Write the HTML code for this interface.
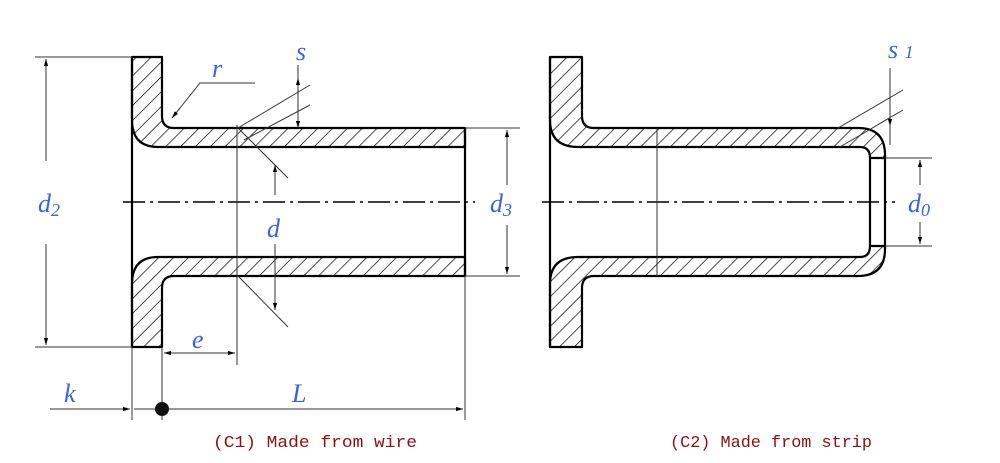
<!DOCTYPE html>
<html><head><meta charset="utf-8"><style>
html,body{margin:0;padding:0;background:#fff;}
svg{display:block;}
.it{font-family:"Liberation Serif",serif;font-style:italic;fill:#3a63d8;}
</style></head><body>
<svg width="1000" height="463" viewBox="0 0 1000 463" xmlns="http://www.w3.org/2000/svg">
<defs>
<pattern id="h" width="10.5" height="10.5" patternUnits="userSpaceOnUse" patternTransform="rotate(45)">
<line x1="0" y1="0" x2="0" y2="10.5" stroke="#000" stroke-width="1.4"/>
</pattern>
<marker id="a" viewBox="0 0 10 10" refX="10" refY="5" markerWidth="7" markerHeight="7" orient="auto-start-reverse">
<path d="M0,2 L10,5 L0,8 Z" fill="#000"/>
</marker>
</defs>
<g fill="url(#h)" stroke="#000" stroke-width="2.2" stroke-linejoin="round">
<path d="M132,57 H162 V116 Q162,128 174,128 H465 V147 H158 Q132,147 132,120 Z"/>
<path d="M132,347 H162 V288 Q162,276 174,276 H465 V257 H158 Q132,257 132,284 Z"/>
<path d="M550,57 H582 V116 Q582,128 594,128 H858 Q885,128 885,155 V158 H870 Q870,147 860,147 H578 Q550,147 550,120 Z"/>
<path d="M550,347 H582 V288 Q582,276 594,276 H858 Q885,276 885,249 V246 H870 Q870,257 860,257 H578 Q550,257 550,284 Z"/>
</g>
<g stroke="#000" stroke-width="2.2">
<line x1="132" y1="57" x2="132" y2="347"/>
<line x1="465" y1="128" x2="465" y2="276"/>
<line x1="550" y1="57" x2="550" y2="347"/>
<line x1="870" y1="158" x2="870" y2="246"/>
<line x1="885" y1="155" x2="885" y2="249"/>
</g>
<g stroke="#000" stroke-width="1.5" stroke-dasharray="22,5,3,5">
<line x1="123" y1="202" x2="475" y2="202"/>
<line x1="542" y1="202" x2="895" y2="202"/>
</g>
<g stroke="#333" stroke-width="1" fill="none">
<line x1="35" y1="57" x2="132" y2="57"/>
<line x1="35" y1="347" x2="132" y2="347"/>
<line x1="46" y1="161" x2="46" y2="59" marker-end="url(#a)"/>
<line x1="46" y1="244" x2="46" y2="345" marker-end="url(#a)"/>
<line x1="465" y1="128" x2="520" y2="128"/>
<line x1="465" y1="276" x2="520" y2="276"/>
<line x1="507" y1="185" x2="507" y2="130" marker-end="url(#a)"/>
<line x1="507" y1="225" x2="507" y2="274" marker-end="url(#a)"/>
<polyline points="255,83 200,83 172,118"/>
<line x1="180" y1="108" x2="172" y2="118" marker-end="url(#a)"/>
<line x1="298" y1="65" x2="298" y2="126" />
<line x1="298" y1="110" x2="298" y2="128" marker-end="url(#a)"/>
<line x1="298" y1="95" x2="298" y2="78" marker-end="url(#a)"/>
<line x1="238" y1="128" x2="310" y2="85"/>
<line x1="244" y1="140" x2="310" y2="105"/>
<line x1="238" y1="128" x2="288" y2="178"/>
<line x1="238" y1="276" x2="288" y2="327"/>
<line x1="275" y1="195" x2="275" y2="165" marker-end="url(#a)"/>
<line x1="275" y1="244" x2="275" y2="310" marker-end="url(#a)"/>
<line x1="237" y1="125" x2="237" y2="365"/>
<line x1="162" y1="347" x2="162" y2="420"/>
<line x1="132" y1="347" x2="132" y2="420"/>
<line x1="465" y1="276" x2="465" y2="420"/>
<line x1="200" y1="353" x2="164" y2="353" marker-end="url(#a)"/>
<line x1="200" y1="353" x2="235" y2="353" marker-end="url(#a)"/>
<line x1="50" y1="409" x2="130" y2="409" marker-end="url(#a)"/>
<line x1="162" y1="409" x2="463" y2="409" marker-end="url(#a)"/>
<line x1="134" y1="409" x2="162" y2="409"/>
<line x1="657" y1="128" x2="657" y2="276"/>
<line x1="885" y1="158" x2="932" y2="158"/>
<line x1="885" y1="246" x2="932" y2="246"/>
<line x1="920" y1="185" x2="920" y2="160" marker-end="url(#a)"/>
<line x1="920" y1="222" x2="920" y2="244" marker-end="url(#a)"/>
<line x1="890" y1="68" x2="890" y2="145"/>
<line x1="890" y1="90" x2="890" y2="126" marker-end="url(#a)"/>
<line x1="838" y1="128" x2="903" y2="90"/>
<line x1="840" y1="147" x2="903" y2="110"/>
</g>
<circle cx="162" cy="409" r="7" fill="#111"/>
<g class="it" font-size="26">
<text x="38" y="212">d<tspan font-size="18" dy="4">2</tspan></text>
<text x="490" y="212">d<tspan font-size="18" dy="4">3</tspan></text>
<text x="267" y="237">d</text>
<text x="212" y="77">r</text>
<text x="296" y="60">s</text>
<text x="192" y="348">e</text>
<text x="64" y="402">k</text>
<text x="292" y="402">L</text>
<text x="888" y="58">s <tspan font-size="18">1</tspan></text>
<text x="908" y="212">d<tspan font-size="18" dy="4">0</tspan></text>
</g>
<g font-family="'Liberation Mono',monospace" font-size="17" fill="#8b1010">
<text x="213" y="447" textLength="204" lengthAdjust="spacingAndGlyphs">(C1) Made from wire</text>
<text x="670" y="447" textLength="202" lengthAdjust="spacingAndGlyphs">(C2) Made from strip</text>
</g>
</svg>
</body></html>
